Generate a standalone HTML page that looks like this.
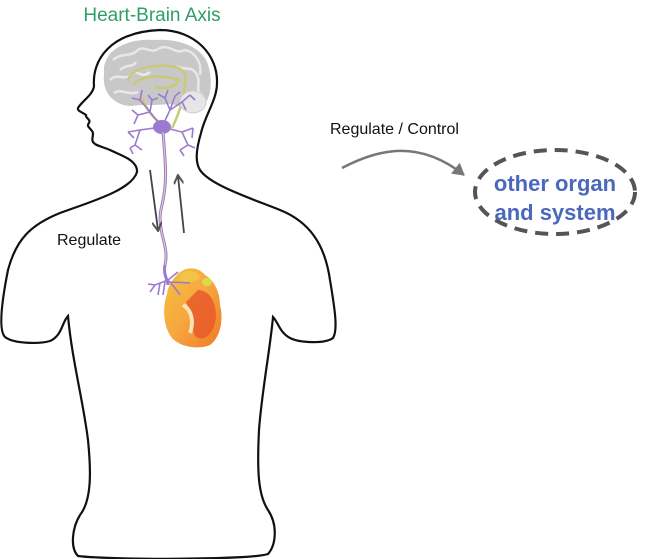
<!DOCTYPE html>
<html><head><meta charset="utf-8"><style>
html,body{margin:0;padding:0;background:#fff;width:651px;height:559px;overflow:hidden}
svg{display:block}
text{font-family:"Liberation Sans",Arial,sans-serif}
</style></head><body>
<svg width="651" height="559" viewBox="0 0 651 559" xmlns="http://www.w3.org/2000/svg">
<defs>
<linearGradient id="hg" x1="0" y1="0" x2="1" y2="1">
<stop offset="0" stop-color="#f3c23a"/><stop offset="0.5" stop-color="#f7a640"/><stop offset="1" stop-color="#f07a25"/>
</linearGradient>
<marker id="ah" markerWidth="10" markerHeight="10" refX="8" refY="5" orient="auto" markerUnits="userSpaceOnUse">
<path d="M0,0 L9,5 L0,10" fill="none" stroke="#555" stroke-width="2"/></marker>
<marker id="ah2" markerWidth="14" markerHeight="14" refX="11" refY="7" orient="auto" markerUnits="userSpaceOnUse">
<path d="M0,0 L12,7 L0,14 Z" fill="#777"/></marker>
</defs>
<text x="152" y="21" font-size="19" fill="#2e9e6a" text-anchor="middle">Heart-Brain Axis</text>
<path d="M137,172 C138,160 120,155 110,150 C100,146 95,145 94,143 C90,140 95,134 92,131 C90,128 86,126 89,123 C91,119 85,118 86,115 C82,112 77,111 78,108 C82,101 93,95 94,86 C92,60 110,32 160,30 C195,30 218,55 217,83 C217,100 205,115 201,133 C196,150 195,162 200,170 C210,185 250,198 280,210 C310,222 325,245 330,280 C335,310 338,330 333,338 C325,344 300,343 290,338 C280,333 278,322 273,317 C270,350 262,390 259,430 C257,470 258,495 268,510 C278,525 276,545 268,554 C250,560 110,560 78,556 C70,548 72,528 80,515 C92,500 91,470 88,440 C83,400 72,360 68,316 C62,322 62,336 50,341 C40,344 14,344 5,337 C-2,330 2,300 8,270 C16,240 30,225 60,213 C90,202 132,190 137,172 Z" fill="none" stroke="#111" stroke-width="2.2"/>
<!-- brain -->
<path d="M104,68 C106,48 130,38 155,40 C180,38 205,48 209,68 C213,85 210,100 202,108 C190,112 178,104 168,104 C150,106 142,104 132,106 C112,106 102,90 104,75 Z" fill="#c8c8c8"/>
<g fill="none" stroke="#e8e8e8" stroke-width="2.5">
<path d="M113,60 C122,52 130,58 138,50 C145,45 150,55 160,48 C170,44 175,55 185,50 C195,52 202,62 200,75"/>
<path d="M110,80 C118,72 124,82 132,74 C138,68 140,80 150,72"/>
<path d="M176,66 C183,71 190,65 196,73 C202,82 194,90 202,95"/>
<path d="M114,93 C122,88 128,96 138,92"/>
<path d="M120,70 C126,64 132,68 136,62"/>
</g>
<g fill="none" stroke="#c9c97a" stroke-width="2.5">
<path d="M128,82 C128,70 150,64 170,66 C182,67 187,73 185,82"/>
<path d="M133,85 C140,76 160,74 179,80 C176,87 165,90 155,87"/>
<path d="M142,98 C148,112 155,120 160,122"/><path d="M185,82 C184,98 180,112 172,128"/>
</g>
<ellipse cx="193" cy="102" rx="13" ry="11" fill="#e6e6e6" stroke="#d0d0d0"/>
<!-- neuron -->
<g fill="none" stroke="#9b7ad0" stroke-width="1.6">
<path d="M162,127 L150,112 L140,100 M150,112 L138,115 M140,100 L132,98 M140,100 L142,90 M138,115 L134,124 M138,115 L132,110"/>
<path d="M162,127 L170,110 L165,98 M170,110 L182,102 L190,95 M182,102 L186,110 M165,98 L158,94 M165,98 L168,90 M190,95 L195,100"/>
<path d="M162,127 L140,130 L135,145 M140,130 L128,132 M135,145 L130,148 M135,145 L142,150 M128,132 L134,138 M130,148 L133,154"/>
<path d="M162,127 L182,132 L188,145 M182,132 L193,128 M188,145 L180,150 M188,145 L195,148 M193,128 L192,138 M180,150 L184,156"/>
<path d="M150,112 L152,100 M170,110 L175,96 M175,96 L180,92 M152,100 L148,95 M152,100 L158,98"/>
</g>
<ellipse cx="162" cy="127" rx="9" ry="7" fill="#9b7ad0"/>
<path d="M163,132 C165,160 168,180 162,205 C155,230 170,245 165,265 C163,275 168,280 168,285" fill="none" stroke="#9b7ad0" stroke-width="3"/>
<path d="M163,132 C165,160 168,180 162,205 C155,230 170,245 165,265" fill="none" stroke="#e7d8b0" stroke-width="1"/>
<!-- heart -->
<path d="M176,276 C184,266 198,266 205,275 C214,280 220,292 220,305 C224,320 220,338 210,345 C198,350 180,347 172,338 C162,325 163,305 167,294 C168,286 172,280 176,276 Z" fill="url(#hg)"/>
<path d="M198,290 C208,290 216,300 216,316 C215,332 206,342 196,337 C190,327 192,312 186,302 Z" fill="#e85a2a" opacity="0.85"/>
<path d="M183,305 C192,310 194,322 190,333" fill="none" stroke="#fbe3b8" stroke-width="4"/>
<path d="M180,275 C186,268 198,270 200,278 C196,282 186,284 180,280 Z" fill="#f2c24a"/>
<ellipse cx="207" cy="282" rx="5" ry="4" fill="#dcd94a"/>
<g fill="none" stroke="#9b7ad0" stroke-width="1.6">
<path d="M168,280 L155,285 L150,292 M160,283 L158,295 M168,280 L175,288 L180,295 M170,282 L190,283 M168,280 L178,272 M165,282 L163,295 M155,285 L148,284"/>
</g>
<line x1="150" y1="170" x2="158" y2="230" stroke="#444" stroke-width="1.8" marker-end="url(#ah)"/>
<line x1="184" y1="233" x2="178" y2="176" stroke="#444" stroke-width="1.8" marker-end="url(#ah)"/>
<text x="57" y="245" font-size="16" fill="#111">Regulate</text>
<text x="330" y="134" font-size="16" fill="#111">Regulate / Control</text>
<path d="M342,168 C380,148 420,140 464,175" fill="none" stroke="#777" stroke-width="2.5" marker-end="url(#ah2)"/>
<ellipse cx="555" cy="192" rx="80" ry="42" fill="none" stroke="#555" stroke-width="4" stroke-dasharray="13,8"/>
<text x="555" y="191" font-size="22" font-weight="bold" fill="#4a68bd" text-anchor="middle">other organ</text>
<text x="555" y="220" font-size="22" font-weight="bold" fill="#4a68bd" text-anchor="middle">and system</text>
</svg>
</body></html>
